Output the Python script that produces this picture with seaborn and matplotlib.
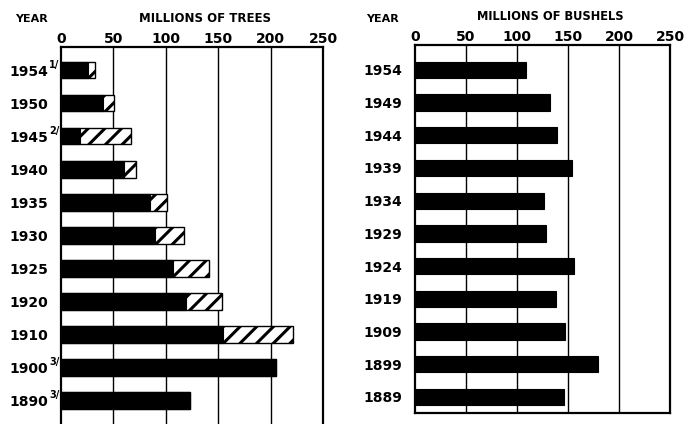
import matplotlib
matplotlib.use("Agg")
import matplotlib.pyplot as plt
import matplotlib.transforms as mtransforms
import seaborn as sns
import pandas as pd

# Left panel: millions of trees (solid part and total incl. hatched part)
tree_years = ["1954", "1950", "1945", "1940", "1935", "1930", "1925", "1920", "1910", "1900", "1890"]
tree_notes = ["1/", "", "2/", "", "", "", "", "", "", "3/", "3/"]
tree_solid = [26, 40, 18, 60, 85, 90, 107, 119, 155, 205, 123]
tree_total = [32, 51, 67, 72, 101, 117, 141, 154, 221, 205, 123]

# Right panel: millions of bushels
bushel_years = ["1954", "1949", "1944", "1939", "1934", "1929", "1924", "1919", "1909", "1899", "1889"]
bushel_values = [109, 132, 139, 154, 126, 128, 156, 138, 147, 179, 146]

xticks = [0, 50, 100, 150, 200, 250]

sns.set_theme(style="white")
plt.rcParams["font.family"] = ["DejaVu Sans"]
plt.rcParams["text.color"] = "black"
plt.rcParams["xtick.color"] = "black"
plt.rcParams["ytick.color"] = "black"
plt.rcParams["axes.labelcolor"] = "black"
plt.rcParams["hatch.linewidth"] = 2.2
plt.rcParams["hatch.color"] = "black"

W, H = 695, 424
fig = plt.figure(figsize=(W / 100, H / 100), dpi=100)

def frac(x0, y0, x1, y1):
    return [x0 / W, 1 - y1 / H, (x1 - x0) / W, (y1 - y0) / H]

ax1 = fig.add_axes(frac(61, 47, 323, 432))
ax2 = fig.add_axes(frac(415, 45, 670, 413))

df_t = pd.DataFrame({"year": tree_years, "solid": tree_solid, "total": tree_total})
df_b = pd.DataFrame({"year": bushel_years, "value": bushel_values})

sns.barplot(data=df_t, x="total", y="year", order=tree_years, orient="h",
            color="white", edgecolor="black", linewidth=1.0, hatch="//",
            width=0.5, ax=ax1, saturation=1)
sns.barplot(data=df_t, x="solid", y="year", order=tree_years, orient="h",
            color="black", edgecolor="black", linewidth=0.8,
            width=0.5, ax=ax1, saturation=1)
sns.barplot(data=df_b, x="value", y="year", order=bushel_years, orient="h",
            color="black", edgecolor="black", linewidth=0.8,
            width=0.5, ax=ax2, saturation=1)

ax1.set_ylim(10.95, -0.7)
ax2.set_ylim(10.49, -0.76)

for ax in (ax1, ax2):
    ax.set_xlim(0, 250)
    ax.set_xticks(xticks)
    ax.xaxis.tick_top()
    ax.tick_params(axis="x", length=0, pad=1, labelsize=10)
    ax.tick_params(axis="y", length=0, pad=9, labelsize=10)
    for lab in ax.get_xticklabels() + ax.get_yticklabels():
        lab.set_fontweight("bold")
    ax.set_xlabel("")
    ax.set_ylabel("")
    for x in xticks[1:-1]:
        ax.axvline(x, color="black", lw=1.0, zorder=0)
    for s in ax.spines.values():
        s.set_visible(True)
        s.set_color("black")
        s.set_linewidth(1.6)

# axis titles
fig.text(205 / W, 1 - 19 / H, "MILLIONS OF TREES", fontsize=8.5, fontweight="bold",
         ha="center", va="center")
fig.text(550 / W, 1 - 16 / H, "MILLIONS OF BUSHELS", fontsize=8.3, fontweight="bold",
         ha="center", va="center")

# "YEAR" headers
fig.text(15 / W, 1 - 19 / H, "YEAR", fontsize=8, fontweight="bold", va="center", ha="left")
fig.text(366 / W, 1 - 19 / H, "YEAR", fontsize=8, fontweight="bold", va="center", ha="left")

# footnote markers
trans = mtransforms.blended_transform_factory(ax1.transAxes, ax1.transData)
for i, note in enumerate(tree_notes):
    if note:
        ax1.annotate(note, xy=(0, i), xycoords=trans, xytext=(-1, 4),
                     textcoords="offset points", ha="right", va="center",
                     fontsize=7, fontweight="bold")

fig.savefig("out.png", dpi=100)
